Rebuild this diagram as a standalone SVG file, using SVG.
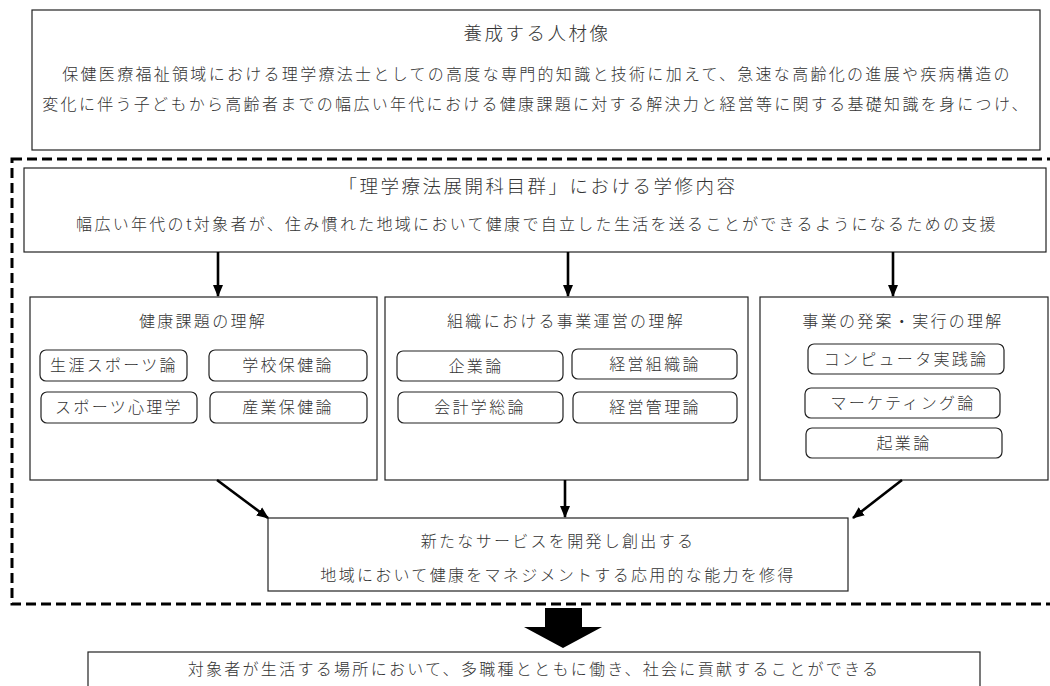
<svg xmlns="http://www.w3.org/2000/svg" width="1050" height="686" viewBox="0 0 1050 686">
<style>
.box{fill:#fff;stroke:#222;stroke-width:1.2}
.sub{fill:#fff;stroke:#222;stroke-width:1.2}
.t{font-family:"Noto Sans CJK JP","Noto Sans CJK SC",sans-serif;font-size:16px;font-weight:300;fill:#333;text-anchor:middle;letter-spacing:2.3px}
.h{font-family:"Noto Sans CJK JP","Noto Sans CJK SC",sans-serif;font-size:18.5px;font-weight:300;fill:#333;text-anchor:middle;letter-spacing:2.5px}
.c{stroke:#000;stroke-width:2.6;fill:none}
</style>
<defs>
<marker id="ah" markerUnits="userSpaceOnUse" markerWidth="12" markerHeight="12" viewBox="0 0 12 12" refX="11" refY="6" orient="auto">
<path d="M0,1 L12,6 L0,11 Z" fill="#000"/>
</marker>
</defs>
<rect x="0" y="0" width="1050" height="686" fill="#fff"/>

<g id="jinzai">
<rect class="box" x="32" y="10" width="1008" height="140"/>
<text class="h" x="537" y="40" letter-spacing="3">養成する人材像</text>
<text class="t" x="537" y="80">保健医療福祉領域における理学療法士としての高度な専門的知識と技術に加えて、急速な高齢化の進展や疾病構造の</text>
<text class="t" x="536" y="110">変化に伴う子どもから高齢者までの幅広い年代における健康課題に対する解決力と経営等に関する基礎知識を身につけ、</text>
</g>

<g id="group-frame">
<rect x="12" y="159" width="1042" height="445" fill="none" stroke="#000" stroke-width="3" stroke-dasharray="10,5"/>
</g>

<g id="gakushu">
<rect class="box" x="24" y="168" width="1022" height="84"/>
<text class="h" x="538" y="193" letter-spacing="1">「理学療法展開科目群」における学修内容</text>
<text class="t" x="537" y="230">幅広い年代のt対象者が、住み慣れた地域において健康で自立した生活を送ることができるようになるための支援</text>
</g>

<g id="kenko">
<rect class="box" x="30" y="297" width="347" height="183"/>
<text class="t" x="203" y="327">健康課題の理解</text>
<rect class="sub" x="40" y="350" width="147" height="31" rx="6"/>
<text class="t" x="114" y="371">生涯スポーツ論</text>
<rect class="sub" x="209" y="350" width="158" height="31" rx="6"/>
<text class="t" x="288" y="371">学校保健論</text>
<rect class="sub" x="41" y="392" width="156" height="31" rx="6"/>
<text class="t" x="119" y="413">スポーツ心理学</text>
<rect class="sub" x="210" y="392" width="157" height="31" rx="6"/>
<text class="t" x="288" y="413">産業保健論</text>
</g>

<g id="soshiki">
<rect class="box" x="385" y="297" width="363" height="183"/>
<text class="t" x="566" y="327">組織における事業運営の理解</text>
<rect class="sub" x="397" y="351" width="166" height="30" rx="6"/>
<text class="t" x="476" y="372">企業論</text>
<rect class="sub" x="572" y="349" width="165" height="30" rx="6"/>
<text class="t" x="655" y="370">経営組織論</text>
<rect class="sub" x="398" y="392" width="165" height="31" rx="6"/>
<text class="t" x="480" y="413">会計学総論</text>
<rect class="sub" x="573" y="392" width="164" height="31" rx="6"/>
<text class="t" x="655" y="413">経営管理論</text>
</g>

<g id="jigyo">
<rect class="box" x="760" y="297" width="288" height="183"/>
<text class="t" x="903" y="327">事業の発案・実行の理解</text>
<rect class="sub" x="808" y="344" width="196" height="30" rx="6"/>
<text class="t" x="906" y="365">コンピュータ実践論</text>
<rect class="sub" x="805" y="388" width="195" height="30" rx="6"/>
<text class="t" x="903" y="409">マーケティング論</text>
<rect class="sub" x="806" y="428" width="196" height="30" rx="6"/>
<text class="t" x="904" y="449">起業論</text>
</g>

<g id="service">
<rect class="box" x="268" y="518" width="580" height="73"/>
<text class="t" x="558" y="547">新たなサービスを開発し創出する</text>
<text class="t" x="558" y="581">地域において健康をマネジメントする応用的な能力を修得</text>
</g>

<g id="koken">
<rect class="box" x="88" y="652" width="892" height="40"/>
<text class="t" x="534" y="675">対象者が生活する場所において、多職種とともに働き、社会に貢献することができる</text>
</g>

<g id="connectors">
<line class="c" x1="218" y1="252" x2="218" y2="296" marker-end="url(#ah)"/>
<line class="c" x1="568" y1="252" x2="568" y2="296" marker-end="url(#ah)"/>
<line class="c" x1="893" y1="252" x2="893" y2="296" marker-end="url(#ah)"/>
<line class="c" x1="217" y1="480" x2="268" y2="518" marker-end="url(#ah)"/>
<line class="c" x1="565" y1="480" x2="565" y2="517" marker-end="url(#ah)"/>
<line class="c" x1="902" y1="480" x2="853" y2="518" marker-end="url(#ah)"/>
<polygon points="545,608 582,608 582,627 602,627 563,648 524,627 545,627" fill="#000"/>
</g>
</svg>
